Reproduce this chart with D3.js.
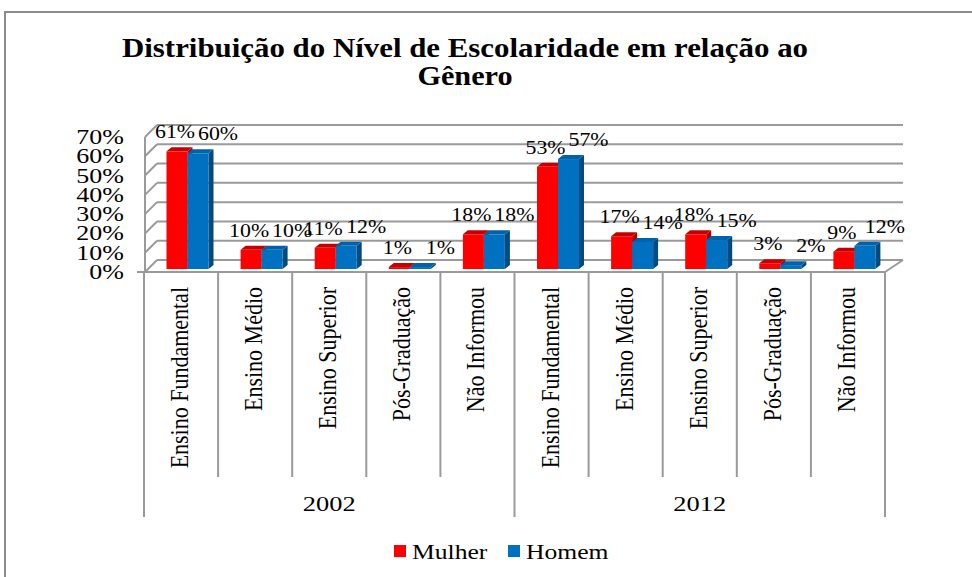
<!DOCTYPE html>
<html>
<head>
<meta charset="utf-8">
<script src="https://cdn.jsdelivr.net/npm/d3@7"></script>
<style>
  body { margin: 0; background: #fff; }
  svg { display: block; }
  text { font-family: "Liberation Serif", "Times New Roman", serif; fill: #000; }
</style>
</head>
<body>
<script>
// data
var years = ["2002", "2012"];
var levels = ["Ensino Fundamental", "Ensino Médio", "Ensino Superior", "Pós-Graduação", "Não Informou"];
var series = ["Mulher", "Homem"];
var mulher = [61, 10, 11, 1, 18, 53, 17, 18, 3, 9];
var homem = [60, 10, 12, 1, 18, 57, 14, 15, 2, 12];
var yTicks = [0, 10, 20, 30, 40, 50, 60, 70];

var colors = {
	Mulher: { front: "#ff0000", side: "#b00000", top: "#c40000" },
	Homem: { front: "#0070c0", side: "#004a80", top: "#0062a8" }
};

var W = 972, H = 577;
var svg = d3.select("body").append("svg")
	.attr("width", W)
	.attr("height", H);

// outer frame
svg.append("path")
	.attr("d", "M5,600 L5,12 L980,12")
	.attr("fill", "none")
	.attr("stroke", "#8c8c8c")
	.attr("stroke-width", 2);

// stretched text helper (picture text is wider than the font)
function stext(g, x, yy, str, size, sx, anchor, rot) {
	return g.append("text")
		.attr("transform", "translate(" + x + "," + yy + ") scale(" + sx + ",1)" + (rot ? " rotate(" + rot + ")" : ""))
		.attr("text-anchor", anchor)
		.attr("font-size", size)
		.text(str);
}

// title
svg.append("text")
	.attr("x", 465).attr("y", 57)
	.attr("text-anchor", "middle")
	.attr("font-weight", "bold")
	.attr("font-size", 28)
	.attr("textLength", 686)
	.attr("lengthAdjust", "spacingAndGlyphs")
	.text("Distribuição do Nível de Escolaridade em relação ao");
stext(svg, 465, 85, "Gênero", 28, 1.08, "middle").attr("font-weight", "bold");

// categories: year x level
var cats = [];
years.forEach(function (yr) {
	levels.forEach(function (lv) {
		cats.push({ year: yr, level: lv });
	});
});
cats.forEach(function (c, i) {
	c.Mulher = mulher[i];
	c.Homem = homem[i];
	c.i = i;
});

// scales
var x0 = d3.scaleBand().domain(d3.range(cats.length)).range([144, 885]);
var x1 = d3.scaleBand().domain(series).range([0, 42]);
var y = d3.scaleLinear().domain([0, 70]).range([272, 137]);

var DX = 12, DY = 12;     // wall depth
var BX = 6.5, BY = -3;    // bar plane shift
var bdx = 5, bdy = 4;     // bar depth
var gridColor = "#9a9a9a";

// walls and gridlines
var walls = svg.append("g").attr("stroke", gridColor).attr("stroke-width", 2).attr("fill", "none");
yTicks.forEach(function (t) {
	walls.append("line")
		.attr("x1", 145 + DX).attr("x2", 903)
		.attr("y1", y(t) - DY).attr("y2", y(t) - DY);
	walls.append("line")
		.attr("x1", 145).attr("x2", 145 + DX)
		.attr("y1", y(t)).attr("y2", y(t) - DY);
});
walls.append("line").attr("x1", 145).attr("x2", 145).attr("y1", y(70)).attr("y2", y(0));
// floor front edge and right edge
walls.append("line").attr("x1", 137).attr("x2", 885).attr("y1", y(0)).attr("y2", y(0));
walls.append("line").attr("x1", 885).attr("x2", 903).attr("y1", y(0)).attr("y2", y(0) - DY);

// y axis labels
var yl = svg.append("g");
yTicks.forEach(function (t) {
	stext(yl, 124, y(t) + 7, t + "%", 20, 1.3, "end");
});

// category dividers below the axis
var div = svg.append("g").attr("stroke", gridColor).attr("stroke-width", 2);
d3.range(cats.length + 1).forEach(function (i) {
	var xx = i < cats.length ? x0(i) : x0.range()[1];
	div.append("line")
		.attr("x1", xx).attr("x2", xx)
		.attr("y1", y(0))
		.attr("y2", i % levels.length === 0 ? 517 : 477);
});

// category labels (rotated)
var cl = svg.append("g");
cats.forEach(function (c, i) {
	stext(cl, x0(i) + x0.bandwidth() / 2 + 7, 287, c.level, 22, 1.1, "end", -90);
});

// year labels
years.forEach(function (yr, k) {
	var a = x0(k * levels.length);
	var b = k === years.length - 1 ? x0.range()[1] : x0((k + 1) * levels.length);
	stext(svg, (a + b) / 2, 511, yr, 22, 1.2, "middle");
});

// 3d bars
var bars = svg.append("g");
cats.forEach(function (c) {
	series.forEach(function (s) {
		var bx = x0(c.i) + 22.5 + x1(s) - 6.5 + BX;
		var bw = x1.bandwidth();
		var b0 = y(0) + BY;
		var bt = y(c[s]) + BY;
		var col = colors[s];
		var g = bars.append("g");
		// side
		g.append("path")
			.attr("d", "M" + (bx + bw) + "," + b0 + " L" + (bx + bw + bdx) + "," + (b0 - bdy) +
				" L" + (bx + bw + bdx) + "," + (bt - bdy) + " L" + (bx + bw) + "," + bt + "Z")
			.attr("fill", col.side);
		// top
		g.append("path")
			.attr("d", "M" + bx + "," + bt + " L" + (bx + bdx) + "," + (bt - bdy) +
				" L" + (bx + bw + bdx) + "," + (bt - bdy) + " L" + (bx + bw) + "," + bt + "Z")
			.attr("fill", col.top);
		// front
		g.append("rect")
			.attr("x", bx).attr("y", bt)
			.attr("width", bw).attr("height", Math.max(0, b0 - bt))
			.attr("fill", col.front);
	});
});

// data labels
var dl = svg.append("g");
cats.forEach(function (c) {
	series.forEach(function (s) {
		var bx = x0(c.i) + 22.5 + x1(s) + x1.bandwidth() / 2;
		var off = s === "Mulher" ? -2 : 20;
		stext(dl, bx + off, y(c[s]) + BY - 13, c[s] + "%", 19, 1.15, "middle");
	});
});

// legend
var lg = svg.append("g");
var legX = { Mulher: 394, Homem: 508 };
series.forEach(function (s) {
	lg.append("rect")
		.attr("x", legX[s]).attr("y", 545)
		.attr("width", 12).attr("height", 12)
		.attr("fill", colors[s].front);
	stext(lg, legX[s] + 18, 559, s, 20, 1.28, "start");
});
</script>
</body>
</html>
